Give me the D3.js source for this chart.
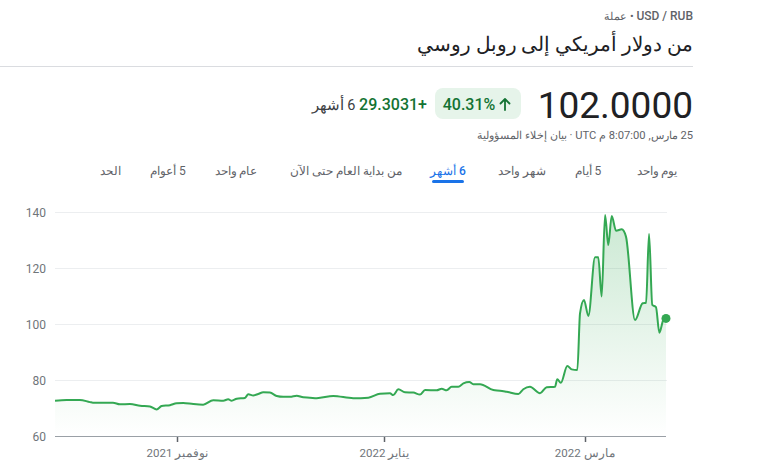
<!DOCTYPE html>
<html>
<head>
<meta charset="utf-8">
<script src="https://cdn.jsdelivr.net/npm/d3@7"></script>
<style>
  html, body { margin: 0; padding: 0; background: #fff; }
  svg { display: block; font-family: Roboto, Arial, sans-serif; }
</style>
</head>
<body>
<svg id="chart" width="766" height="474"></svg>
<script>
// ---------- data ----------
const dates = [
  "2021-09-25T22","2021-09-29T08","2021-10-03T06","2021-10-06T05","2021-10-07T02",
  "2021-10-13T00","2021-10-15T01","2021-10-18T00","2021-10-21T00","2021-10-23T22",
  "2021-10-25T21","2021-10-27T08","2021-10-29T19","2021-10-31T18","2021-11-02T17",
  "2021-11-05T16","2021-11-08T14","2021-11-11T13","2021-11-14T12","2021-11-15T23",
  "2021-11-16T23","2021-11-18T11","2021-11-20T21","2021-11-21T21","2021-11-23T08",
  "2021-11-24T19","2021-11-26T07","2021-11-28T06","2021-11-30T06","2021-12-02T04",
  "2021-12-04T04","2021-12-06T03","2021-12-08T02","2021-12-10T01","2021-12-12T01",
  "2021-12-16T22","2021-12-22T19","2021-12-27T06","2021-12-30T16","2022-01-02T15",
  "2022-01-03T14","2022-01-05T02","2022-01-07T01","2022-01-09T12","2022-01-11T11",
  "2022-01-12T23","2022-01-16T09","2022-01-17T21","2022-01-19T08","2022-01-20T19",
  "2022-01-22T18","2022-01-24T06","2022-01-26T00","2022-01-27T04","2022-01-29T04",
  "2022-02-02T02","2022-02-04T01","2022-02-06T00","2022-02-09T11","2022-02-10T22",
  "2022-02-12T21","2022-02-15T20","2022-02-17T19","2022-02-20T06","2022-02-20T22",
  "2022-02-21T23","2022-02-23T21","2022-02-25T04","2022-02-26T20","2022-02-27T15",
  "2022-02-28T19","2022-03-02T02","2022-03-04T01","2022-03-05T00","2022-03-06T00",
  "2022-03-07T00","2022-03-07T23","2022-03-08T23","2022-03-10T06","2022-03-11T22",
  "2022-03-13T04","2022-03-15T20","2022-03-18T02","2022-03-19T02","2022-03-19T23",
  "2022-03-20T22","2022-03-22T00","2022-03-23T00","2022-03-24T04","2022-03-24T23"
];
const values = [
  72.6, 72.9, 72.9, 72.1, 71.9,
  71.9, 71.3, 71.4, 70.8, 70.5,
  69.5, 70.7, 71.0, 71.7, 71.8,
  71.4, 71.2, 72.8, 72.6, 73.1,
  72.6, 73.3, 73.6, 74.9, 74.5,
  75.0, 75.6, 75.5, 74.3, 74.0,
  74.0, 74.4, 73.8, 73.7, 73.5,
  74.3, 73.5, 73.7, 75.1, 75.3,
  74.6, 76.7, 75.6, 75.5, 74.8,
  76.4, 76.3, 76.9, 76.3, 77.6,
  77.6, 78.8, 79.3, 78.5, 78.5,
  76.4, 76.2, 75.8, 75.0, 76.7,
  77.6, 75.3, 77.4, 77.6, 80.3,
  79.0, 85.0, 83.8, 83.6, 103.8,
  108.6, 102.9, 123.8, 123.8, 109.8,
  138.9, 128.2, 138.6, 133.3, 133.8,
  131.2, 101.4, 107.4, 107.6, 132.1,
  106.8, 106.0, 96.9, 101.4, 102.0
];
const yTicks = [60, 80, 100, 120, 140];
const xTickDates = ["2021-11-01T00", "2022-01-01T00", "2022-03-01T00"];
const xTickLabels = ["نوفمبر 2021", "يناير 2022", "مارس 2022"];
const tabLabels = ["الحد", "5 أعوام", "عام واحد", "من بداية العام حتى الآن", "6 أشهر", "شهر واحد", "5 أيام", "يوم واحد"];
const activeTab = "6 أشهر";
const headerTitle = "من دولار أمريكي إلى روبل روسي";
const currentPrice = "102.0000";
const changePct = "40.31%";
const changeAbs = "+29.3031";
const changePeriod = "6 أشهر";
const timestampText = "25 مارس, 8:07:00 م UTC · بيان إخلاء المسؤولية";

// ---------- setup ----------
const parse = d3.timeParse("%Y-%m-%dT%H");
const data = dates.map((d, i) => ({ date: parse(d), value: values[i] }));

const svg = d3.select("#chart");
const green = "#34a853";

const x = d3.scaleTime()
  .domain(d3.extent(data, d => d.date))
  .range([55, 666]);
const y = d3.scaleLinear()
  .domain([60, 140])
  .range([436, 212]);

// ---------- header ----------
const RIGHT = 693;
const kick = svg.append("text")
  .attr("x", RIGHT).attr("y", 20)
  .attr("direction", "rtl").attr("text-anchor", "start")
  .attr("font-size", 12).attr("fill", "#5f6368");
kick.append("tspan").attr("font-weight", 500).text("USD / RUB");
kick.append("tspan").attr("font-size", 11).text(" • عملة");

svg.append("text")
  .attr("x", RIGHT).attr("y", 51)
  .attr("direction", "rtl").attr("text-anchor", "start")
  .attr("font-size", 19.5).attr("fill", "#202124")
  .text(headerTitle);

svg.append("line")
  .attr("x1", 0).attr("x2", RIGHT).attr("y1", 66.5).attr("y2", 66.5)
  .attr("stroke", "#dadce0");

svg.append("text")
  .attr("x", RIGHT).attr("y", 118)
  .attr("text-anchor", "end")
  .attr("font-size", 37).attr("fill", "#202124")
  .text(currentPrice);

svg.append("rect")
  .attr("x", 435).attr("y", 88).attr("width", 86).attr("height", 31)
  .attr("rx", 8).attr("fill", "#e6f4ea");
svg.append("text")
  .attr("x", 469).attr("y", 109.5)
  .attr("text-anchor", "middle")
  .attr("font-size", 16).attr("font-weight", 500).attr("fill", "#137333")
  .text(changePct);
svg.append("path")
  .attr("d", "M505 110 V99 M500.5 103.5 L505 99 L509.5 103.5")
  .attr("fill", "none").attr("stroke", "#137333").attr("stroke-width", 1.8)
  .attr("stroke-linecap", "round").attr("stroke-linejoin", "round");

const chg = svg.append("text")
  .attr("x", 427).attr("y", 109.5)
  .attr("direction", "rtl").attr("text-anchor", "start")
  .attr("font-size", 16);
chg.append("tspan").attr("fill", "#137333").attr("font-weight", 500).text(changeAbs);
chg.append("tspan").attr("fill", "#3c4043").attr("font-size", 14.5).text(" " + changePeriod);

svg.append("text")
  .attr("x", RIGHT).attr("y", 139)
  .attr("direction", "rtl").attr("text-anchor", "start")
  .attr("font-size", 11.2).attr("fill", "#5f6368")
  .text(timestampText);

// ---------- tabs ----------
const tabX = d3.scalePoint().domain(tabLabels).range([110, 657]);
const tabCenters = { "الحد": 110, "5 أعوام": 168, "عام واحد": 236, "من بداية العام حتى الآن": 346, "6 أشهر": 448, "شهر واحد": 522, "5 أيام": 588, "يوم واحد": 657 };
svg.append("g").selectAll("text").data(tabLabels).join("text")
  .attr("x", d => tabCenters[d] !== undefined ? tabCenters[d] : tabX(d))
  .attr("y", 175)
  .attr("direction", "rtl").attr("text-anchor", "middle")
  .attr("font-size", 12)
  .attr("font-weight", d => d === activeTab ? 500 : 400)
  .attr("fill", d => d === activeTab ? "#1a73e8" : "#5f6368")
  .text(d => d);
svg.append("rect")
  .attr("x", tabCenters[activeTab] - 16).attr("y", 180).attr("width", 32).attr("height", 3)
  .attr("rx", 1.5).attr("fill", "#1a73e8");

// ---------- grid + y labels ----------
svg.append("g").selectAll("line").data(yTicks.filter(t => t !== 60)).join("line")
  .attr("x1", 55).attr("x2", 667)
  .attr("y1", d => Math.round(y(d)) + 0.5).attr("y2", d => Math.round(y(d)) + 0.5)
  .attr("stroke", "#eceef0");
svg.append("g").selectAll("text").data(yTicks).join("text")
  .attr("x", 46).attr("y", d => y(d) + 4.5)
  .attr("text-anchor", "end")
  .attr("font-size", 12).attr("fill", "#70757a")
  .text(d => d);

// ---------- area + line ----------
const defs = svg.append("defs");
const grad = defs.append("linearGradient")
  .attr("id", "fillGrad").attr("gradientUnits", "userSpaceOnUse")
  .attr("x1", 0).attr("x2", 0).attr("y1", y(140)).attr("y2", y(60));
grad.append("stop").attr("offset", 0).attr("stop-color", green).attr("stop-opacity", 0.26);
grad.append("stop").attr("offset", 1).attr("stop-color", green).attr("stop-opacity", 0.0);

const curve = d3.curveMonotoneX;
svg.append("path").datum(data)
  .attr("fill", "url(#fillGrad)")
  .attr("d", d3.area().curve(curve).x(d => x(d.date)).y0(y(60)).y1(d => y(d.value)));

svg.append("path").datum(data)
  .attr("fill", "none").attr("stroke", green).attr("stroke-width", 2)
  .attr("stroke-linejoin", "round")
  .attr("d", d3.line().curve(curve).x(d => x(d.date)).y(d => y(d.value)));

// ---------- x axis ----------
const xg = svg.append("g");
xg.append("line")
  .attr("x1", 55).attr("x2", 666).attr("y1", 436.5).attr("y2", 436.5)
  .attr("stroke", "#9aa0a6");
xg.selectAll("line.tick").data(xTickDates).join("line")
  .attr("class", "tick")
  .attr("x1", d => Math.round(x(parse(d))) + 0.5).attr("x2", d => Math.round(x(parse(d))) + 0.5)
  .attr("y1", 437).attr("y2", 442)
  .attr("stroke", "#5f6368").attr("stroke-width", 1.5);
xg.selectAll("text").data(xTickDates).join("text")
  .attr("x", d => x(parse(d))).attr("y", 457)
  .attr("direction", "rtl").attr("text-anchor", "middle")
  .attr("font-size", 11.5).attr("fill", "#70757a")
  .text((d, i) => xTickLabels[i]);

// ---------- end dot ----------
const last = data[data.length - 1];
svg.append("circle")
  .attr("cx", x(last.date)).attr("cy", y(last.value)).attr("r", 4.5)
  .attr("fill", green);
</script>
</body>
</html>
